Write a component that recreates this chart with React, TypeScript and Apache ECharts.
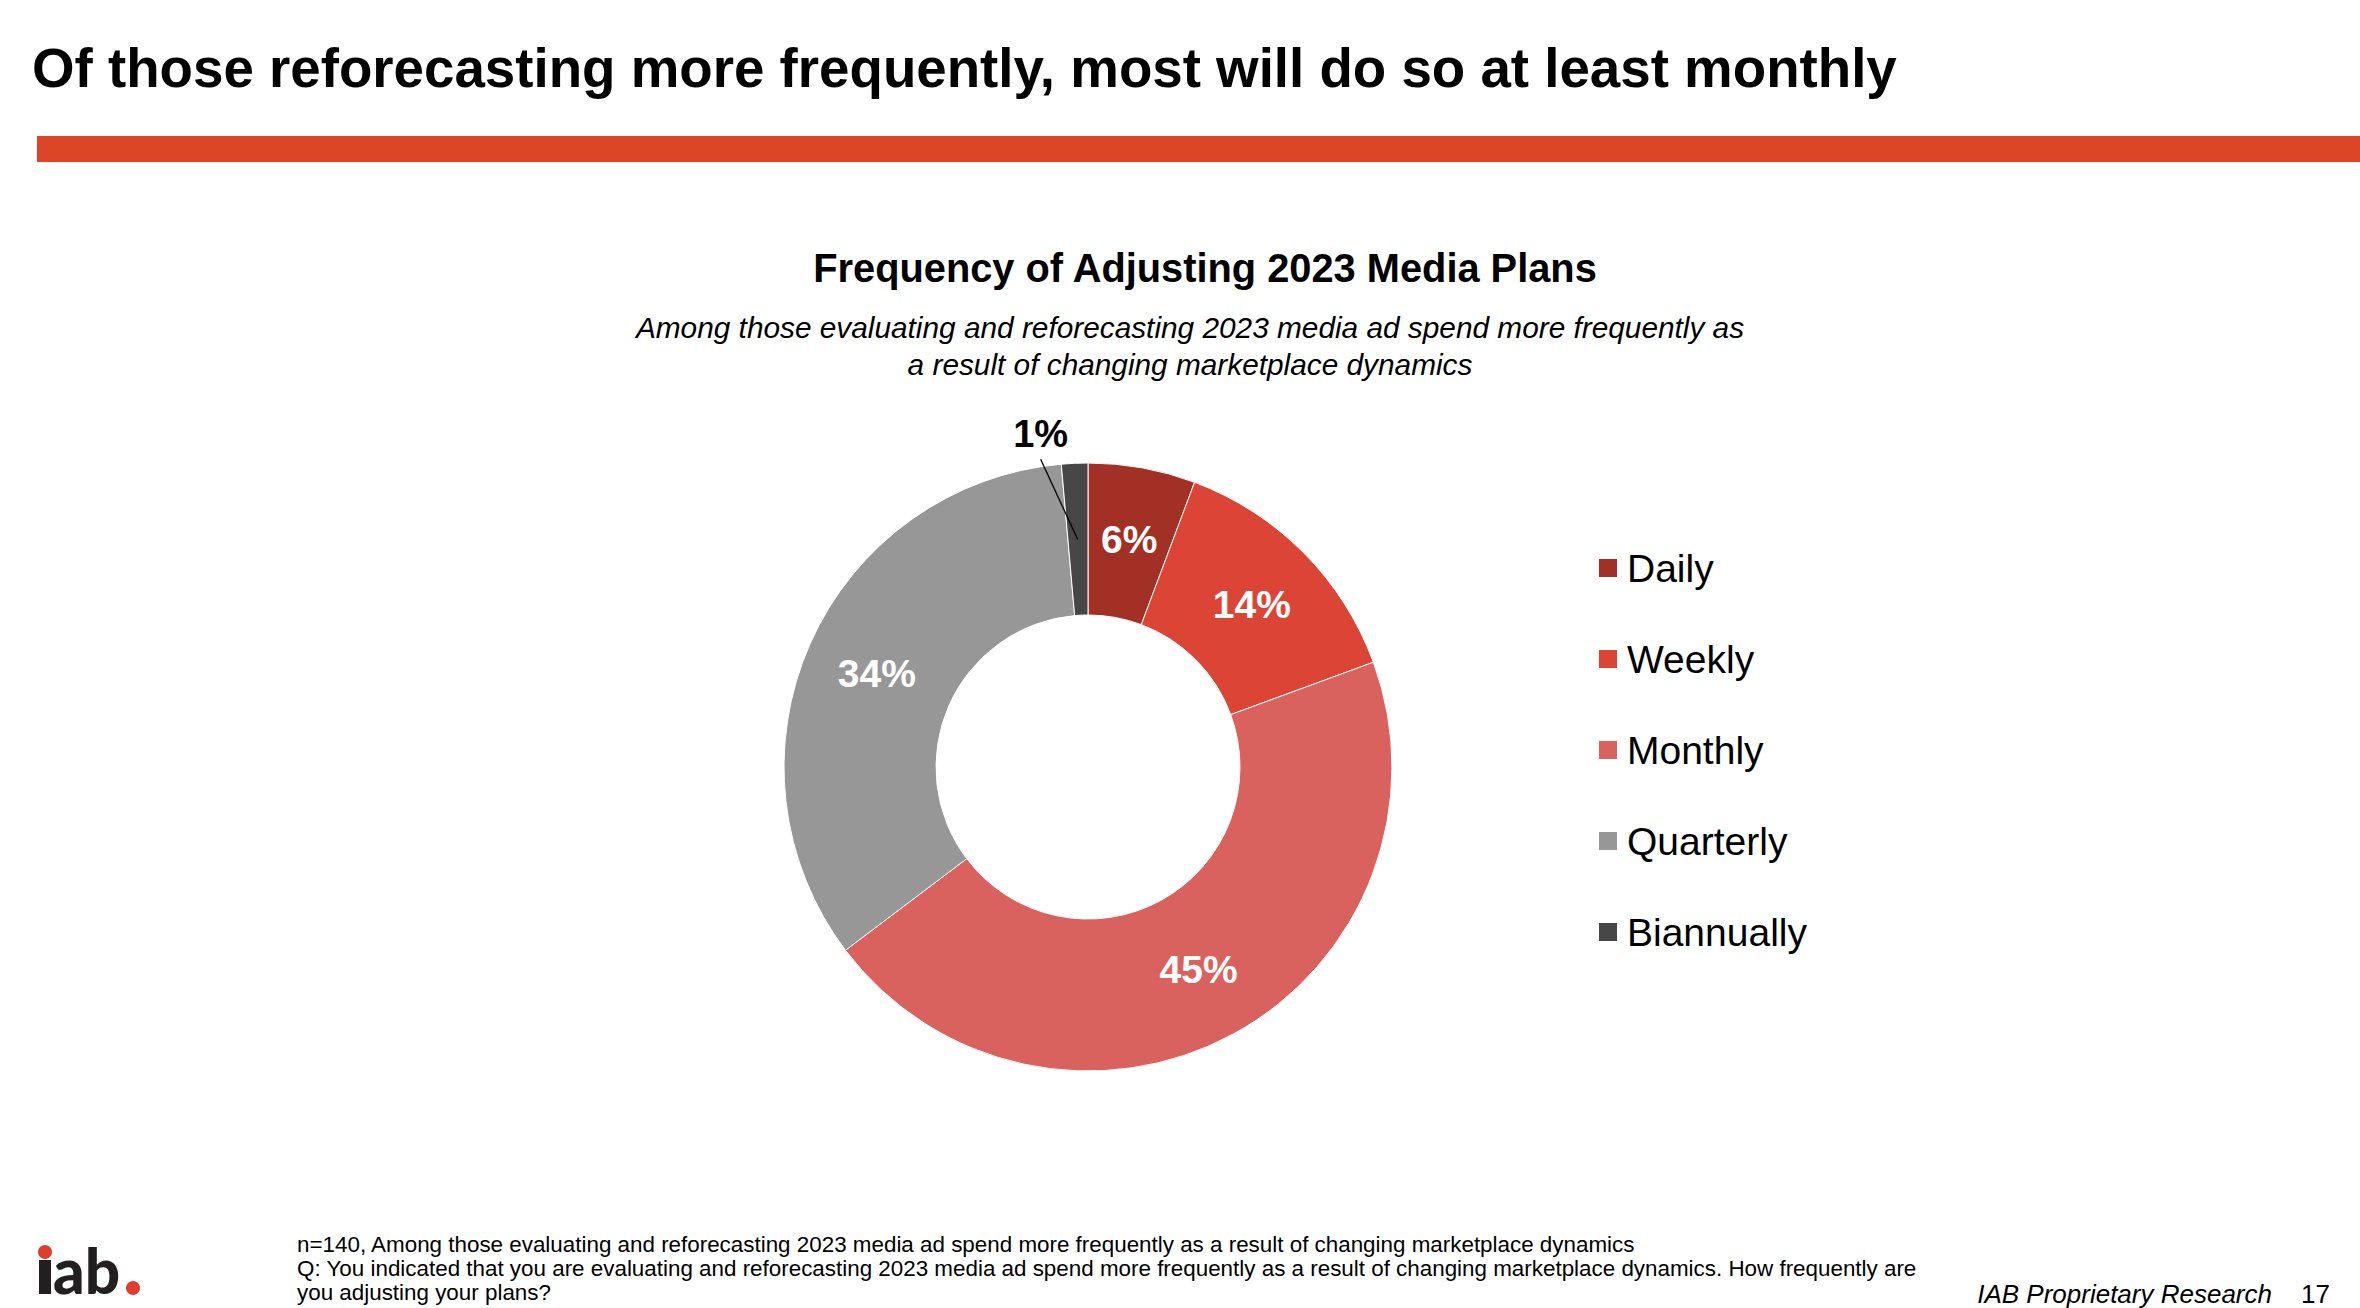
import React, { useEffect, useRef } from 'react';
import * as echarts from 'echarts';

const pageTitle = 'Of those reforecasting more frequently, most will do so at least monthly';
const chartTitle = 'Frequency of Adjusting 2023 Media Plans';
const subtitleLines = [
  'Among those evaluating and reforecasting 2023 media ad spend more frequently as',
  'a result of changing marketplace dynamics',
];
const categories = ['Daily', 'Weekly', 'Monthly', 'Quarterly', 'Biannually'];
const shares = [5.7, 13.7, 45.3, 33.9, 1.4];
const sliceColors = ['#A33024', '#DC4535', '#D9625E', '#979797', '#474747'];
const outsideLabelIndex = 4;
const footnoteLines = [
  'n=140, Among those evaluating and reforecasting 2023 media ad spend more frequently as a result of changing marketplace dynamics',
  'Q: You indicated that you are evaluating and reforecasting 2023 media ad spend more frequently as a result of changing marketplace dynamics. How frequently are',
  'you adjusting your plans?',
];
const sourceText = 'IAB Proprietary Research';
const pageNumber = '17';

const FONT = 'Arial, "Liberation Sans", Helvetica, sans-serif';

const PIE_CENTER = [1088, 767];
const PIE_RADIUS = [152, 304];

const pctFormatter = (p: any) => `${Math.round(p.value)}%`;

export default function App() {
  const ref = useRef<HTMLDivElement>(null);

  useEffect(() => {
    if (!ref.current) return;
    const chart = echarts.init(ref.current, undefined, { renderer: 'svg' });

    // main ring: coloured slices with the inside labels
    const mainData = categories.map((name, i) => ({
      name,
      value: shares[i],
      itemStyle: { color: sliceColors[i] },
      label: { show: i !== outsideLabelIndex },
    }));

    // transparent overlay ring: carries the outside label and its leader line above the slices
    const overlayData = categories.map((name, i) => ({
      name,
      value: shares[i],
      itemStyle: { color: 'rgba(0,0,0,0)', borderWidth: 0 },
      label: { show: i === outsideLabelIndex },
      labelLine: { show: i === outsideLabelIndex },
    }));

    const graphic: any[] = [
      {
        type: 'text',
        x: 32,
        y: 68,
        style: {
          text: pageTitle,
          font: `bold 54.7px ${FONT}`,
          fill: '#000000',
          align: 'left',
          verticalAlign: 'middle',
        },
      },
      {
        type: 'rect',
        shape: { x: 37, y: 136, width: 2323, height: 26 },
        style: { fill: '#DC4626' },
      },
      {
        type: 'text',
        x: 1205,
        y: 268,
        style: {
          text: chartTitle,
          font: `bold 39.8px ${FONT}`,
          fill: '#000000',
          align: 'center',
          verticalAlign: 'middle',
        },
      },
      ...subtitleLines.map((t, i) => ({
        type: 'text',
        x: 1190,
        y: 327 + i * 37,
        style: {
          text: t,
          font: `italic 29.8px ${FONT}`,
          fill: '#000000',
          align: 'center',
          verticalAlign: 'middle',
        },
      })),
      ...footnoteLines.map((t, i) => ({
        type: 'text',
        x: 297,
        y: 1244 + i * 24,
        style: {
          text: t,
          font: `22.4px ${FONT}`,
          fill: '#000000',
          align: 'left',
          verticalAlign: 'middle',
        },
      })),
      {
        type: 'text',
        x: 2272,
        y: 1294,
        style: {
          text: sourceText,
          font: `italic 26px ${FONT}`,
          fill: '#000000',
          align: 'right',
          verticalAlign: 'middle',
        },
      },
      {
        type: 'text',
        x: 2301,
        y: 1294,
        style: {
          text: pageNumber,
          font: `26px ${FONT}`,
          fill: '#000000',
          align: 'left',
          verticalAlign: 'middle',
        },
      },
      // iab. logo
      {
        type: 'rect',
        shape: { x: 39, y: 1260, width: 12, height: 34 },
        style: { fill: '#231F20' },
      },
      {
        type: 'text',
        x: 53,
        y: 1270,
        style: {
          text: 'ab',
          font: `900 62px Lato, ${FONT}`,
          fill: '#231F20',
          align: 'left',
          verticalAlign: 'middle',
        },
      },
      { type: 'circle', shape: { cx: 45, cy: 1252, r: 7 }, style: { fill: '#DE3E2E' } },
      { type: 'circle', shape: { cx: 133, cy: 1288, r: 7 }, style: { fill: '#DE3E2E' } },
    ];

    chart.setOption({
      animation: false,
      backgroundColor: '#ffffff',
      legend: {
        orient: 'vertical',
        left: 1592,
        top: 543,
        padding: 5,
        itemWidth: 20,
        itemHeight: 20,
        itemGap: 51,
        icon: 'rect',
        selectedMode: false,
        data: categories,
        textStyle: {
          fontSize: 39,
          lineHeight: 40,
          color: '#000000',
          fontFamily: FONT,
          padding: [0, 0, 0, 4],
        },
      },
      graphic,
      series: [
        {
          type: 'pie',
          z: 2,
          center: PIE_CENTER,
          radius: PIE_RADIUS,
          startAngle: 90,
          clockwise: true,
          avoidLabelOverlap: false,
          silent: true,
          data: mainData,
          itemStyle: { borderColor: '#ffffff', borderWidth: 1 },
          label: {
            show: true,
            position: 'inside',
            color: '#ffffff',
            fontSize: 39,
            fontWeight: 'bold',
            fontFamily: FONT,
            formatter: pctFormatter,
          },
          labelLine: { show: false },
          emphasis: { disabled: true },
        },
        {
          type: 'pie',
          z: 5,
          center: PIE_CENTER,
          radius: PIE_RADIUS,
          startAngle: 90,
          clockwise: true,
          avoidLabelOverlap: false,
          silent: true,
          legendHoverLink: false,
          data: overlayData,
          label: {
            position: 'outside',
            color: '#000000',
            fontSize: 38,
            fontWeight: 'bold',
            fontFamily: FONT,
            formatter: pctFormatter,
          },
          labelLine: { length: 20, length2: 0, lineStyle: { color: '#000000', width: 1.3 } },
          labelLayout: (params: any) => {
            if (params.dataIndex !== outsideLabelIndex || !params.labelLinePoints) return {};
            const a = params.labelLinePoints[0];
            return {
              x: a[0] - 34,
              y: a[1] - 29,
              align: 'center',
              verticalAlign: 'middle',
              labelLinePoints: [
                [a[0] + 3, a[1] + 76],
                [a[0] - 34, a[1] - 4],
              ],
            };
          },
          emphasis: { disabled: true },
        },
      ],
    });

    return () => chart.dispose();
  }, []);

  return (
    <div
      ref={ref}
      style={{ position: 'absolute', left: 0, top: 0, width: 2360, height: 1308, background: '#fff' }}
    />
  );
}
